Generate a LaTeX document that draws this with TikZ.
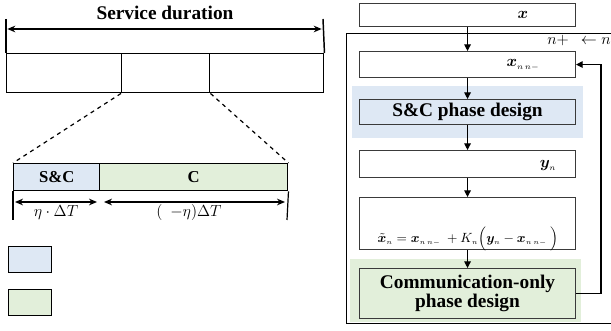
\documentclass[tikz,border=0pt]{standalone}
\usepackage{amsmath,bm}
\usepackage{fontspec}
\setmainfont{Liberation Serif}
\usetikzlibrary{arrows.meta}

\definecolor{scblue}{HTML}{DEE8F4}
\definecolor{cgreen}{HTML}{E2EFDA}
\definecolor{boxgray}{HTML}{3A3A3A}

\tikzset{
  seg/.style={draw=black,line width=1.1pt,minimum height=29.25pt,inner sep=0pt},
  flowbox/.style={draw=boxgray,line width=0.8pt,minimum width=162pt,inner sep=0pt},
  flowarrow/.style={-{Triangle[length=5pt,width=5pt]},line width=0.8pt},
  spanarrow/.style={{Stealth[length=6pt,width=5pt]}-{Stealth[length=6pt,width=5pt]},line width=0.9pt},
  bigtext/.style={font=\fontsize{14.5}{16}\selectfont\bfseries},
  midtext/.style={font=\fontsize{12.5}{14}\selectfont\bfseries},
  mathtext/.style={font=\fontsize{11.5}{13}\selectfont},
  eqtext/.style={font=\fontsize{10}{12}\selectfont}
}

\begin{document}
\begin{tikzpicture}[x=0.75pt,y=-0.75pt]
    \useasboundingbox (0,0) rectangle (611,331);

    % service duration bar
    \node[bigtext] (title) at (165,13) {Service duration};
    \coordinate (tl) at (6,19);
    \coordinate (tr) at (323,19);
    \node[seg,minimum width=86.25pt,anchor=north west] (seg1) at (6,53) {};
    \node[seg,minimum width=66pt,anchor=north west] (seg2) at (121,53) {};
    \node[seg,minimum width=85.5pt,anchor=north west] (seg3) at (209,53) {};
    \draw[line width=1.1pt] (tl) -- (seg1.north west);
    \draw[line width=1.1pt] (tr) -- (seg3.north east);
    \draw[spanarrow] ([xshift=1pt,yshift=-7.5pt]tl) -- ([xshift=-1pt,yshift=-7.5pt]tr);

    % one slot
    \node[seg,fill=scblue,minimum width=64.5pt,minimum height=20.25pt,anchor=north west] (sc) at (13,163) {};
    \node[seg,fill=cgreen,minimum width=141pt,minimum height=20.25pt,anchor=north west] (cc) at (99,163) {};
    \node[midtext] at (sc) {S\&C};
    \node[midtext] at (cc) {C};
    \draw[dashed,line width=0.9pt] (seg2.south west) -- (sc.north west);
    \draw[dashed,line width=0.9pt] (seg2.south east) -- (cc.north east);
    \coordinate (bl) at (13,220);
    \coordinate (br) at (287,220);
    \draw[line width=0.9pt] (sc.south west) -- (bl);
    \draw[line width=0.9pt] (cc.south east) -- (br);
    \draw[spanarrow] (15,202) -- (97,202);
    \draw[spanarrow] (104,202) -- (285,202);
    \node[mathtext] (etalab) at (56,213) {$\eta\cdot\Delta T$};
    \node[mathtext] (restlab) at (189,213) {$(\ \ -\eta)\Delta T$};

    % legend
    \node[draw=black,line width=0.9pt,fill=scblue,minimum width=32.25pt,minimum height=19.5pt,anchor=north west,inner sep=0pt] (legsc) at (8,246) {};
    \node[draw=black,line width=0.9pt,fill=cgreen,minimum width=32.25pt,minimum height=19.5pt,anchor=north west,inner sep=0pt] (legc) at (8,289) {};

    % flow chart
    \fill[scblue] (352,86) rectangle (583,138);
    \fill[cgreen] (350,259) rectangle (581,322);
    \draw[line width=0.7pt] (611,33) -- (346,33) -- (346,323) -- (611,323);

    \node[flowbox,minimum height=17.25pt,anchor=north west] (xin) at (359,3) {};
    \node[flowbox,minimum height=19.5pt,anchor=north west] (pred) at (359,51) {};
    \node[flowbox,fill=scblue,minimum height=18.75pt,anchor=north west,bigtext] (scd) at (359,99) {S\&C phase design};
    \node[flowbox,minimum height=20.25pt,anchor=north west] (meas) at (359,150) {};
    \node[flowbox,minimum height=39pt,anchor=north west] (upd) at (359,197) {};
    \node[flowbox,fill=cgreen,minimum height=37.5pt,anchor=north west,bigtext,align=center] (cd) at (359,268) {Communication-only\\[-2pt]phase design};

    \node[mathtext] at (523,15) {$\bm{x}$};
    \node[mathtext] at (523,65) {$\bm{x}_{\scriptscriptstyle n\,n-}$};
    \node[mathtext] at (548,166) {$\bm{y}_{\scriptscriptstyle n}$};
    \node[eqtext] at (468,239) {$\tilde{\bm{x}}_{\scriptscriptstyle n}=\bm{x}_{\scriptscriptstyle n\,n-}\ +K_{\scriptscriptstyle n}\Bigl(\bm{y}_{\scriptscriptstyle n}-\bm{x}_{\scriptscriptstyle n\,n-}\ \Bigr)$};
    \node[mathtext,anchor=east,inner sep=0pt] (iter) at (611,41) {$n+\ \ \leftarrow n$};

    \coordinate (fb) at (601,294);
    \draw[flowarrow] (xin) -- (pred);
    \draw[flowarrow] (pred) -- (scd);
    \draw[flowarrow] (scd) -- (meas);
    \draw[flowarrow] (meas) -- (upd);
    \draw[flowarrow] (upd) -- (cd);
    \draw[flowarrow] (cd.east) -- (cd.east -| fb) |- (pred.east);

  \end{tikzpicture}
\end{document}
